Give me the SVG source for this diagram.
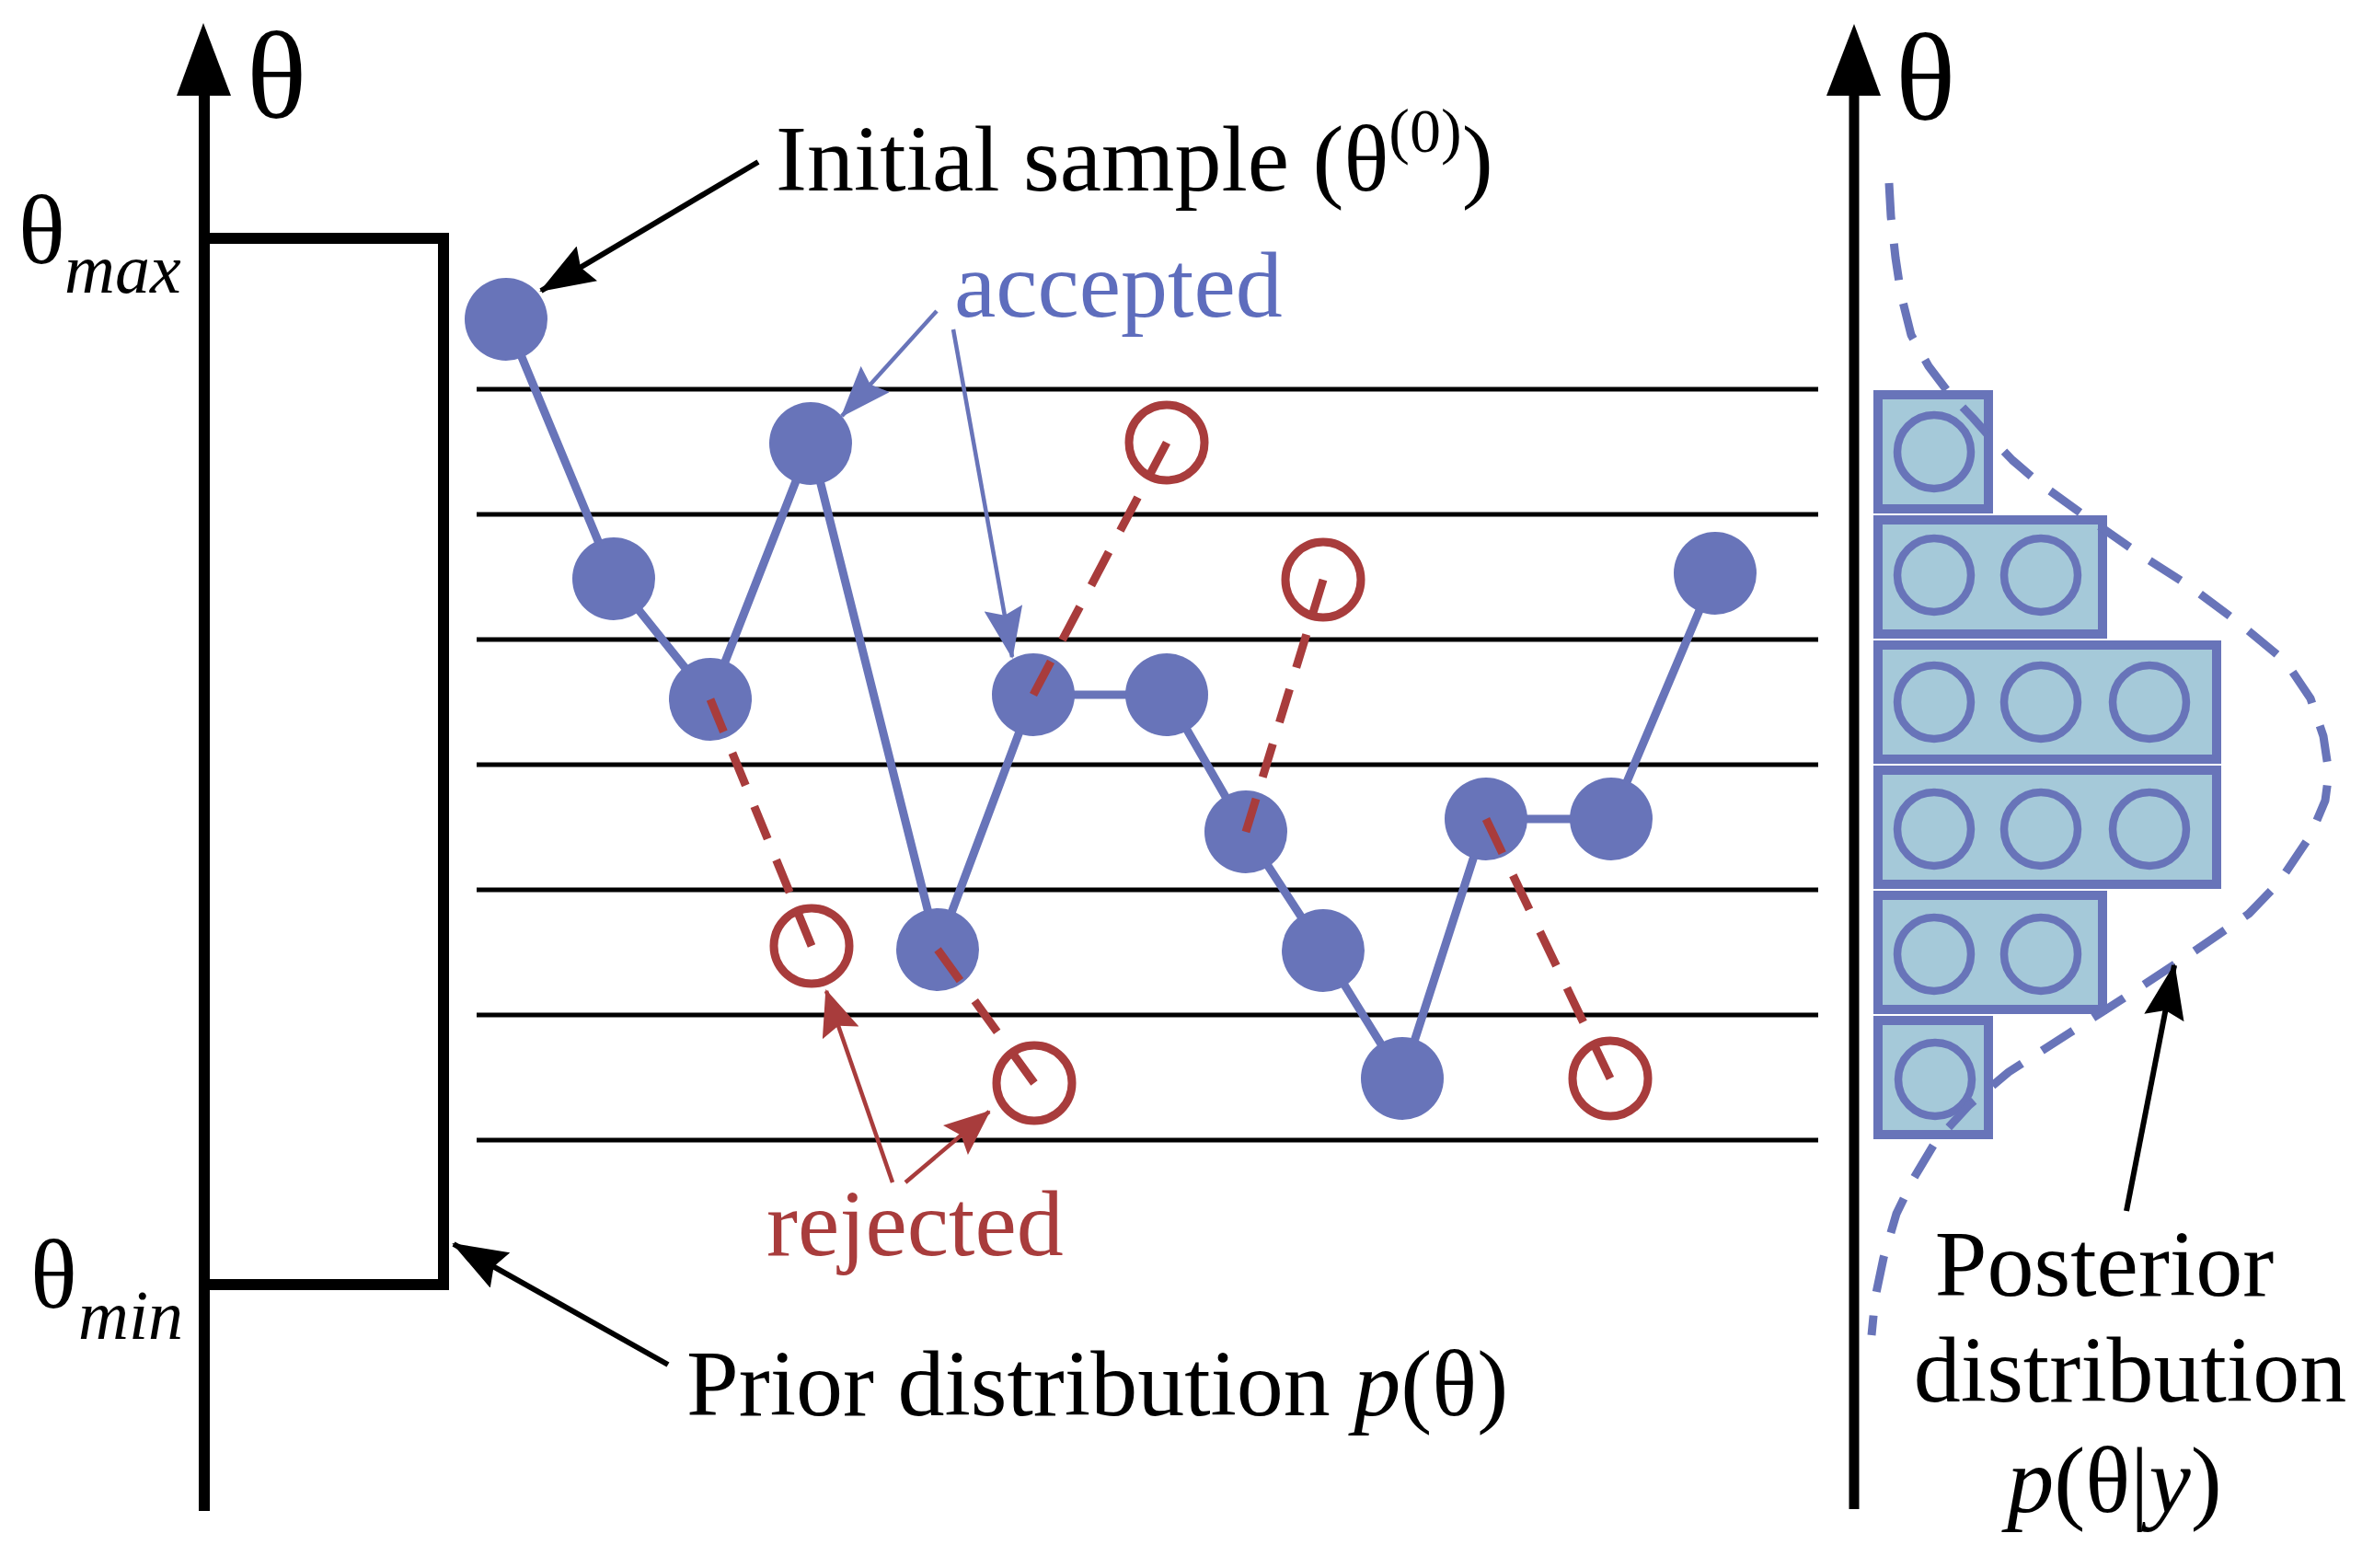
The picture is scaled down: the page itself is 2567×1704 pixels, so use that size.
<svg xmlns="http://www.w3.org/2000/svg" width="2567" height="1704" viewBox="0 0 2567 1704">
<style>
text{font-family:"Liberation Serif","Times New Roman",serif;fill:#000}
.lbl{font-size:102px}
.ax{font-size:136px}
.it{font-style:italic}
.grid{stroke:#000;stroke-width:5}
.acc{fill:#6874b9}
.chain{fill:none;stroke:#6874b9;stroke-width:9;stroke-linejoin:round}
.rej{fill:none;stroke:#a83c3c;stroke-width:9}
.rdash{fill:none;stroke:#a83c3c;stroke-width:9;stroke-dasharray:40 26}
.bar{fill:#a5c9d9;stroke:#6874b9;stroke-width:10}
.hc{fill:none;stroke:#6874b9;stroke-width:8.5}
.blk{stroke:#000;stroke-width:6;fill:none}
.bth{stroke:#6874b9;stroke-width:4.5;fill:none}
.rth{stroke:#a83c3c;stroke-width:4.5;fill:none}
</style>
<defs>
<marker id="hk" markerUnits="userSpaceOnUse" viewBox="0 0 60 44" refX="58" refY="22" markerWidth="60" markerHeight="44" orient="auto"><path d="M0,0 L60,22 L0,44 L8,22 Z" fill="#000"/></marker>
<marker id="hb" markerUnits="userSpaceOnUse" viewBox="0 0 56 42" refX="54" refY="21" markerWidth="56" markerHeight="42" orient="auto"><path d="M0,0 L56,21 L0,42 L8,21 Z" fill="#6874b9"/></marker>
<marker id="hr" markerUnits="userSpaceOnUse" viewBox="0 0 50 42" refX="48" refY="21" markerWidth="50" markerHeight="42" orient="auto"><path d="M0,0 L50,21 L0,42 L8,21 Z" fill="#a83c3c"/></marker>
</defs>
<rect width="2567" height="1704" fill="#fff"/>

<g id="prior-axis">
<line x1="222" y1="100" x2="222" y2="1642" stroke="#000" stroke-width="12"/>
<polygon points="221,25 192,104 251,104" fill="#000"/>
<text class="ax" x="268" y="128">θ</text>
<text x="20" y="286" font-size="106">θ</text><text class="it" x="70" y="318" font-size="76">max</text>
<text x="33" y="1421" font-size="106">θ</text><text class="it" x="85" y="1455" font-size="76">min</text>
</g>
<g id="prior-box">
<path d="M222,259 H482 V1396 H222" fill="none" stroke="#000" stroke-width="12"/>
</g>

<g id="grid">
<line class="grid" x1="518" y1="423" x2="1976" y2="423"/>
<line class="grid" x1="518" y1="559" x2="1976" y2="559"/>
<line class="grid" x1="518" y1="695" x2="1976" y2="695"/>
<line class="grid" x1="518" y1="831" x2="1976" y2="831"/>
<line class="grid" x1="518" y1="967" x2="1976" y2="967"/>
<line class="grid" x1="518" y1="1103" x2="1976" y2="1103"/>
<line class="grid" x1="518" y1="1239" x2="1976" y2="1239"/>
</g>

<g id="posterior-axis">
<line x1="2015" y1="100" x2="2015" y2="1640" stroke="#000" stroke-width="11"/>
<polygon points="2015,26 1985,104 2044,104" fill="#000"/>
<text class="ax" x="2060" y="130">θ</text>
</g>

<g id="histogram">
<rect class="bar" x="2041" y="429" width="120" height="124"/>
<rect class="bar" x="2041" y="565" width="244" height="124"/>
<rect class="bar" x="2041" y="701" width="368" height="124"/>
<rect class="bar" x="2041" y="837" width="368" height="124"/>
<rect class="bar" x="2041" y="973" width="244" height="124"/>
<rect class="bar" x="2041" y="1109" width="120" height="124"/>
<circle class="hc" cx="2102" cy="491" r="40"/>
<circle class="hc" cx="2102" cy="625" r="40"/><circle class="hc" cx="2218" cy="625" r="40"/>
<circle class="hc" cx="2102" cy="763" r="40"/><circle class="hc" cx="2218" cy="763" r="40"/><circle class="hc" cx="2336" cy="763" r="40"/>
<circle class="hc" cx="2102" cy="901" r="40"/><circle class="hc" cx="2218" cy="901" r="40"/><circle class="hc" cx="2336" cy="901" r="40"/>
<circle class="hc" cx="2102" cy="1037" r="40"/><circle class="hc" cx="2218" cy="1037" r="40"/>
<circle class="hc" cx="2103" cy="1173" r="40"/>
</g>
<g id="posterior-curve">
<path d="M2053,199 L2055,235 L2060,280 L2066,320 L2077,364 L2096,398 L2118,427 L2144,454 L2160,472 L2187,500 L2215,524 L2262,558 L2322,600 L2381,638 L2432,676 L2484,719 L2511,759 L2525,800 L2531,840 L2527,870 L2511,908 L2476,960 L2444,993 L2377,1039 L2306,1086 L2250,1122 L2183,1165 L2140,1201 L2104,1240 L2080,1280 L2061,1319 L2047,1367 L2038,1410 L2034,1451" fill="none" stroke="#6874b9" stroke-width="9" stroke-dasharray="40 26" stroke-linejoin="round"/>
</g>

<g id="connectors">
<path class="chain" d="M550,347 L667,629 L772,760 L881,482 L1019,1032 L1123,755 L1268,755 L1354,904 L1438,1033 L1524,1172 L1615,890 L1751,890 L1864,623"/>
<path class="blk" d="M824,176 L588,316" marker-end="url(#hk)"/>
<path class="blk" d="M726,1483 L493,1352" marker-end="url(#hk)"/>
<path class="blk" d="M2311,1316 L2363,1049" marker-end="url(#hk)"/>
<path class="bth" d="M1018,338 L915,452" marker-end="url(#hb)"/>
<path class="bth" d="M1036,358 L1100,714" marker-end="url(#hb)"/>
<path class="rth" d="M970,1285 L898,1077" marker-end="url(#hr)"/>
<path class="rth" d="M984,1285 L1075,1208" marker-end="url(#hr)"/>
</g>

<g id="accepted-samples">
<circle class="acc" cx="550" cy="347" r="45"/>
<circle class="acc" cx="667" cy="629" r="45"/>
<circle class="acc" cx="772" cy="760" r="45"/>
<circle class="acc" cx="881" cy="482" r="45"/>
<circle class="acc" cx="1019" cy="1032" r="45"/>
<circle class="acc" cx="1123" cy="755" r="45"/>
<circle class="acc" cx="1268" cy="755" r="45"/>
<circle class="acc" cx="1354" cy="904" r="45"/>
<circle class="acc" cx="1438" cy="1033" r="45"/>
<circle class="acc" cx="1524" cy="1172" r="45"/>
<circle class="acc" cx="1615" cy="890" r="45"/>
<circle class="acc" cx="1751" cy="890" r="45"/>
<circle class="acc" cx="1864" cy="623" r="45"/>
</g>

<g id="proposals">
<path class="rdash" d="M772,760 L882,1028" pathLength="304"/>
<path class="rdash" d="M1019,1032 L1124,1177" pathLength="172"/>
<path class="rdash" d="M1123,755 L1268,481" pathLength="304"/>
<path class="rdash" d="M1354,904 L1438,630" pathLength="304"/>
<path class="rdash" d="M1615,890 L1750,1172" pathLength="304"/>
</g>

<g id="rejected-samples">
<circle class="rej" cx="882" cy="1028" r="41"/>
<circle class="rej" cx="1124" cy="1177" r="41"/>
<circle class="rej" cx="1268" cy="481" r="41"/>
<circle class="rej" cx="1438" cy="630" r="41"/>
<circle class="rej" cx="1750" cy="1172" r="41"/>
</g>

<g id="labels">
<text class="lbl" x="843" y="207">Initial sample (θ<tspan font-size="68" dy="-42">(0)</tspan><tspan dy="42">)</tspan></text>
<text class="lbl" x="1037" y="344" style="fill:#5e6dbd">accepted</text>
<text class="lbl" x="833" y="1364" style="fill:#a83c3c">rejected</text>
<text class="lbl" x="746" y="1538">Prior distribution <tspan class="it">p</tspan>(θ)</text>
<text class="lbl" x="2287" y="1408" text-anchor="middle">Posterior</text>
<text class="lbl" x="2315" y="1523" text-anchor="middle">distribution</text>
<text class="lbl" x="2298" y="1643" text-anchor="middle"><tspan class="it">p</tspan>(θ|<tspan class="it">y</tspan>)</text>
</g>
</svg>
